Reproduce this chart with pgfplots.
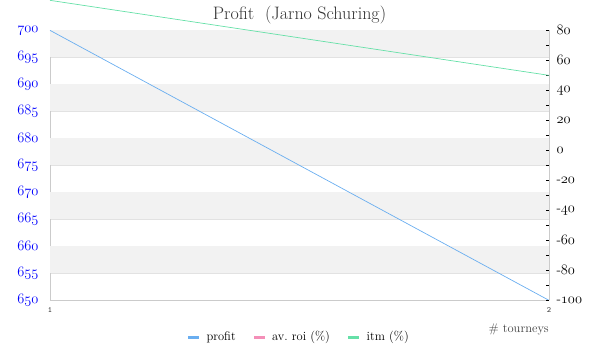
\documentclass[border=0pt]{standalone}
\usepackage{fontspec}
\usepackage{pgfplots}
\pgfplotsset{compat=1.18}
\definecolor{cprofit}{HTML}{6AAEF0}
\definecolor{croi}{HTML}{F48FB8}
\definecolor{citm}{HTML}{66E0A8}
\definecolor{cband}{HTML}{F2F2F2}
\definecolor{cgrid}{HTML}{E2E2E2}
\definecolor{ctitle}{HTML}{333333}
\newcommand\osnum[1]{\pgfmathparse{round(abs(#1))}\pgfmathtruncatemacro\osv{\pgfmathresult}\ifdim#1pt<0pt -\fi{\usefont{OML}{lmm}{m}{it}\osv}}
\begin{document}
\begin{tikzpicture}
\begin{axis}[
  name=left,
  scale only axis, width=499pt, height=270pt,
  xmin=1, xmax=2, ymin=650, ymax=700,
  xtick={1,2},
  xticklabel={\pgfmathprintnumber[assume math mode=true]{\tick}},
  xticklabel style={font=\ttfamily\fontsize{8}{9}\selectfont, text=black!80, yshift=-4pt},
  ytick distance=5,
  yticklabel={\osnum{\tick}},
  yticklabel style={font=\fontsize{14}{16}\selectfont, text=blue, xshift=-8pt},
  major tick length=0pt,
  axis line style={cgrid!90!black, line width=0.8pt},
  ymajorgrids, grid style={cgrid, line width=0.8pt},
  axis y line*=left, axis x line*=bottom,
  title={Profit\ \ (Jarno Schuring)},
  title style={font=\fontsize{18}{20}\selectfont, text=ctitle, yshift=-3pt},
]
\pgfplotsinvokeforeach{700,690,680,670,660}{
  \fill[cband] (axis cs:1,#1) rectangle (axis cs:2,#1-5);
}
\addplot[cprofit, line width=0.7pt] coordinates {(1,700) (2,650)};
\end{axis}
\begin{axis}[
  scale only axis, width=499pt, height=270pt,
  xmin=1, xmax=2, ymin=-100, ymax=80,
  axis y line*=right, axis x line=none,
  ytick distance=20, minor ytick={-90,-70,...,70},
  yticklabel={\osnum{\tick}},
  yticklabel style={font=\fontsize{13.5}{15}\selectfont, text=black, xshift=4pt},
  major tick length=3pt, minor tick length=3pt,
  tick style={black, line width=0.8pt},
  tick align=inside,
  axis line style={cgrid!90!black, line width=0.8pt},
  clip=false,
  legend style={at={(0.5,-0.10)}, anchor=north, draw=none, fill=none,
    legend columns=3, font=\fontsize{12.5}{14}\selectfont,
    /tikz/every odd column/.append style={column sep=6pt},
    /tikz/every even column/.append style={column sep=16pt}},
  legend image code/.code={\fill[#1] (0pt,-1.1pt) rectangle (10pt,1.1pt);},
]
\addlegendimage{cprofit}
\addlegendentry{profit}
\addlegendimage{croi}
\addlegendentry{av.\ roi (\%)}
\addplot[citm, line width=0.7pt] coordinates {(1,100) (2,50)};
\addlegendentry{itm (\%)}
\end{axis}
\node[anchor=north east, font=\fontsize{12.5}{14}\selectfont, text=black!75, inner sep=0pt] at ([yshift=-23pt]left.south east) {\#\ tourneys};
\path[use as bounding box] ([xshift=-50pt,yshift=-60pt]left.south west) rectangle ++(600pt,360pt);
\end{tikzpicture}
\end{document}
